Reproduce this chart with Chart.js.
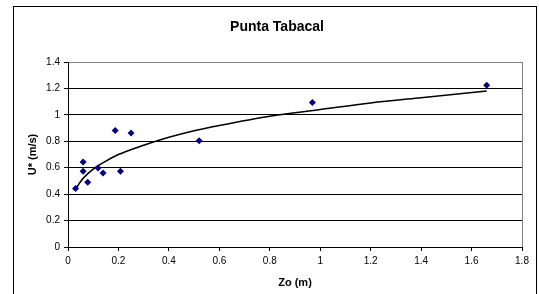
<!DOCTYPE html>
<html>
<head>
<meta charset="utf-8">
<script src="https://cdn.jsdelivr.net/npm/chart.js@4/dist/chart.umd.min.js"></script>
<style>
  html, body { margin: 0; padding: 0; background: #fff; overflow: hidden; }
</style>
</head>
<body>
<canvas id="chart" width="539" height="294"></canvas>
<script>
document.addEventListener('DOMContentLoaded', function() {
    // measured points (Zo, U*)
    const zo = [0.03, 0.06, 0.06, 0.078, 0.119, 0.139, 0.187, 0.208, 0.25, 0.52, 0.969, 1.66];
    const uStar = [0.442, 0.643, 0.573, 0.49, 0.598, 0.56, 0.882, 0.573, 0.862, 0.804, 1.093, 1.224];

    // trend curve
    const trendX = [0.03, 0.06, 0.1, 0.15, 0.2, 0.3, 0.4, 0.5, 0.6, 0.8, 1.0, 1.2, 1.4, 1.66];
    const trendY = [0.44, 0.52, 0.59, 0.65, 0.70, 0.77, 0.83, 0.88, 0.92, 0.99, 1.04, 1.09, 1.13, 1.18];

    const font = 'Arial, "Liberation Sans", sans-serif';

    const points = zo.map(function(x, i) { return { x: x, y: uStar[i] }; });
    const trend = trendX.map(function(x, i) { return { x: x, y: trendY[i] }; });

    // outer chart frame, like the spreadsheet chart border
    const framePlugin = {
        id: 'frame',
        beforeDraw: function(chart) {
            const c = chart.ctx;
            c.save();
            c.fillStyle = '#fff';
            c.fillRect(0, 0, chart.width, chart.height);
            c.strokeStyle = '#000';
            c.lineWidth = 1;
            c.strokeRect(13.5, 6.5, 523, 300);
            c.restore();
        }
    };

    const fmt = function(v) { return String(Math.round(v * 10) / 10); };

    const ctx = document.getElementById('chart').getContext('2d');

    new Chart(ctx, {
        type: 'scatter',
        data: {
            datasets: [{
                label: 'U*',
                data: points,
                pointStyle: 'rectRot',
                pointRadius: 3.5,
                backgroundColor: '#000080',
                borderColor: '#000080',
                borderWidth: 0,
                order: 1
            }, {
                label: 'trend',
                data: trend,
                showLine: true,
                pointRadius: 0,
                borderColor: '#000',
                borderWidth: 1.6,
                cubicInterpolationMode: 'monotone',
                order: 2
            }]
        },
        options: {
            responsive: false,
            animation: false,
            layout: { padding: { left: 32, right: 17, top: 0, bottom: 0 } },
            plugins: {
                legend: { display: false },
                tooltip: { enabled: false },
                title: {
                    display: true,
                    text: 'Punta Tabacal',
                    color: '#000',
                    font: { family: font, size: 14, weight: 'bold' },
                    padding: { top: 19, bottom: 26.2 }
                }
            },
            scales: {
                x: {
                    type: 'linear',
                    min: 0,
                    max: 1.8,
                    ticks: { stepSize: 0.2, color: '#000', font: { family: font, size: 10 }, padding: 4, callback: fmt },
                    grid: {
                        color: function(c) { return c.index === 9 ? '#808080' : 'rgba(0,0,0,0)'; },
                        tickColor: '#000',
                        tickLength: 4
                    },
                    border: { color: '#000', width: 1 },
                    title: {
                        display: true,
                        text: 'Zo (m)',
                        color: '#000',
                        font: { family: font, size: 11, weight: 'bold' },
                        padding: { top: 0, bottom: 4 }
                    },
                    afterFit: function(scale) { scale.height = 47; }
                },
                y: {
                    min: 0,
                    max: 1.4,
                    ticks: { stepSize: 0.2, color: '#000', font: { family: font, size: 10 }, padding: 4, callback: fmt },
                    grid: {
                        color: function(c) { return c.index === 7 ? '#808080' : '#000'; },
                        tickColor: '#000',
                        tickLength: 4
                    },
                    border: { color: '#000', width: 1 },
                    title: {
                        display: true,
                        text: 'U* (m/s)',
                        color: '#000',
                        font: { family: font, size: 11, weight: 'bold' },
                        padding: { top: -6, bottom: 0 }
                    },
                    afterFit: function(scale) { scale.width = 36; }
                }
            }
        },
        plugins: [framePlugin]
    });
});
</script>
</body>
</html>
